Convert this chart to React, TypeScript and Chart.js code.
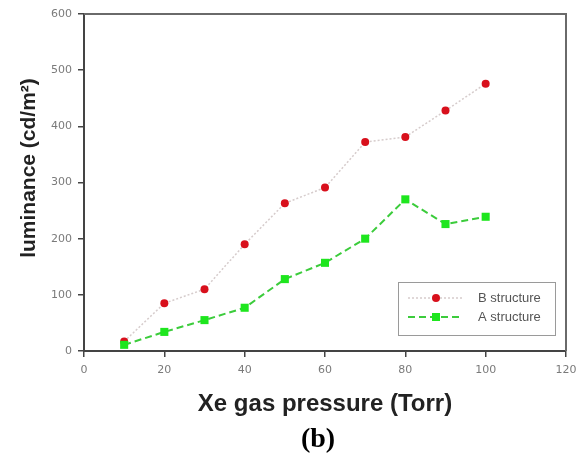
import React, { useEffect, useRef } from "react";
import { Chart, registerables } from "chart.js";

Chart.register(...registerables);

const pressures = [10, 20, 30, 40, 50, 60, 70, 80, 90, 100];
const bStructure = [17, 85, 110, 190, 263, 291, 372, 381, 428, 476];
const aStructure = [11, 34, 55, 77, 128, 157, 200, 270, 226, 239];
const seriesLabels = ["B structure", "A structure"];
const xTitle = "Xe gas pressure (Torr)";
const yTitle = "luminance (cd/m²)";
const caption = "(b)";

const RED = "#d8101c";
const GREEN = "#1ee61e";
const GREEN_LINE = "#3ccc3c";
const GRAY_LINE = "#d6cccc";

const decorPlugin = {
  id: "decor",
  afterDraw(chart: any) {
    const { ctx, chartArea } = chart;
    const { left, top, right, bottom } = chartArea;
    ctx.save();
    // top & right frame
    ctx.strokeStyle = "#6a6a6a";
    ctx.lineWidth = 2;
    ctx.beginPath();
    ctx.moveTo(left, top);
    ctx.lineTo(right, top);
    ctx.lineTo(right, bottom);
    ctx.stroke();

    // y title
    ctx.fillStyle = "#222";
    ctx.textAlign = "center";
    ctx.textBaseline = "middle";
    ctx.save();
    ctx.translate(29, 168);
    ctx.rotate(-Math.PI / 2);
    ctx.font = "bold 21px 'Liberation Sans', Arial, sans-serif";
    ctx.fillText(yTitle, 0, 0);
    ctx.restore();

    // x title
    ctx.font = "bold 24px 'Liberation Sans', Arial, sans-serif";
    ctx.fillText(xTitle, 325, 404);

    // caption
    ctx.fillStyle = "#000";
    ctx.font = "bold 28px 'Liberation Serif', 'Times New Roman', serif";
    ctx.fillText(caption, 318, 440);

    // legend
    const lx = 398, ly = 282, lw = 157, lh = 53;
    ctx.fillStyle = "#fff";
    ctx.fillRect(lx, ly, lw, lh);
    ctx.strokeStyle = "#9a9a9a";
    ctx.lineWidth = 1;
    ctx.strokeRect(lx + 0.5, ly + 0.5, lw, lh);
    const rows = [
      { y: 298, label: seriesLabels[0], kind: "b" },
      { y: 317, label: seriesLabels[1], kind: "a" },
    ];
    rows.forEach((r) => {
      ctx.beginPath();
      if (r.kind === "b") {
        ctx.strokeStyle = GRAY_LINE;
        ctx.lineWidth = 1.5;
        ctx.setLineDash([2, 2]);
      } else {
        ctx.strokeStyle = GREEN_LINE;
        ctx.lineWidth = 2;
        ctx.setLineDash([7, 4]);
      }
      ctx.moveTo(408, r.y);
      ctx.lineTo(462, r.y);
      ctx.stroke();
      ctx.setLineDash([]);
      if (r.kind === "b") {
        ctx.fillStyle = RED;
        ctx.beginPath();
        ctx.arc(436, r.y, 4, 0, Math.PI * 2);
        ctx.fill();
      } else {
        ctx.fillStyle = GREEN;
        ctx.fillRect(432, r.y - 4, 8, 8);
      }
      ctx.fillStyle = "#555";
      ctx.textAlign = "left";
      ctx.textBaseline = "middle";
      ctx.font = "13px 'Liberation Sans', Arial, sans-serif";
      ctx.fillText(r.label, 478, r.y);
    });
    ctx.restore();
  },
};

export default function App() {
  const ref = useRef<HTMLCanvasElement | null>(null);
  useEffect(() => {
    if (!ref.current) return;
    const chart = new Chart(ref.current, {
      type: "line",
      data: {
        datasets: [
          {
            label: seriesLabels[0],
            data: pressures.map((x, i) => ({ x, y: bStructure[i] })),
            borderColor: GRAY_LINE,
            borderWidth: 1.5,
            borderDash: [2, 2],
            pointStyle: "circle",
            pointRadius: 4,
            pointBackgroundColor: RED,
            pointBorderColor: RED,
            pointBorderWidth: 0,
            order: 1,
          },
          {
            label: seriesLabels[1],
            data: pressures.map((x, i) => ({ x, y: aStructure[i] })),
            borderColor: GREEN_LINE,
            borderWidth: 2,
            borderDash: [7, 4],
            pointStyle: "rect",
            pointRadius: 5.7,
            pointBackgroundColor: GREEN,
            pointBorderColor: GREEN,
            pointBorderWidth: 0,
            order: 0,
          },
        ],
      },
      options: {
        animation: false,
        responsive: false,
        devicePixelRatio: 1,
        layout: { padding: { left: 0, top: 14, right: 11, bottom: 0 } },
        plugins: { legend: { display: false }, tooltip: { enabled: false } },
        scales: {
          x: {
            type: "linear",
            min: 0,
            max: 120,
            afterFit: (s: any) => {
              s.height = 103;
              s.paddingLeft = 0;
              s.paddingRight = 0;
            },
            ticks: {
              stepSize: 20,
              color: "#7a7a7a",
              padding: 7,
              font: { family: "'DejaVu Sans', sans-serif", size: 11 },
            },
            grid: {
              drawOnChartArea: false,
              drawTicks: true,
              tickLength: 6,
              color: "#444",
              lineWidth: 1.5,
            },
            border: { display: true, color: "#444", width: 2 },
          },
          y: {
            type: "linear",
            min: 0,
            max: 600,
            afterFit: (s: any) => {
              s.width = 84;
              s.paddingTop = 0;
              s.paddingBottom = 0;
            },
            ticks: {
              stepSize: 100,
              color: "#7a7a7a",
              padding: 6,
              font: { family: "'DejaVu Sans', sans-serif", size: 11 },
            },
            grid: {
              drawOnChartArea: false,
              drawTicks: true,
              tickLength: 6,
              color: "#444",
              lineWidth: 1.5,
            },
            border: { display: true, color: "#444", width: 2 },
          },
        },
      },
      plugins: [decorPlugin],
    } as any);
    return () => chart.destroy();
  }, []);
  return (
    <div style={{ position: "absolute", left: 0, top: 0, width: 577, height: 454, background: "#fff" }}>
      <canvas ref={ref} width={577} height={454} style={{ display: "block", width: 577, height: 454 }} />
    </div>
  );
}
